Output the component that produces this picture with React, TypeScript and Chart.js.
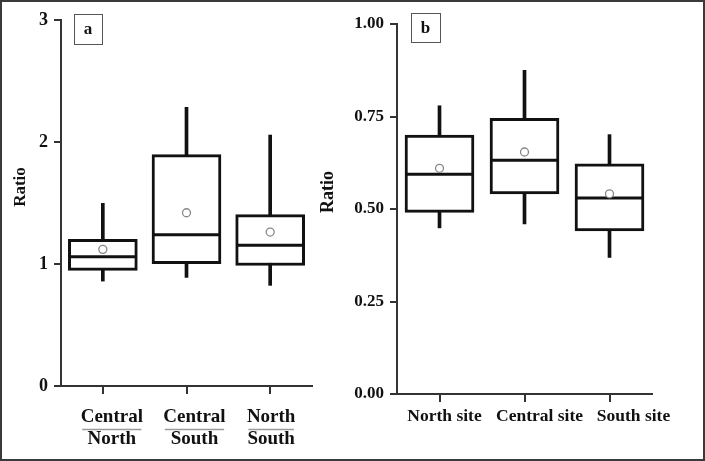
import { useEffect, useRef } from 'react';
import { Chart, registerables } from 'chart.js';

Chart.register(...registerables);

// ---------- Panel a ----------
const categoriesA = [['Central', 'North'], ['Central', 'South'], ['North', 'South']];
const minA = [0.86, 0.89, 0.825];
const q1A = [0.948, 1.002, 0.988];
const medianA = [1.06, 1.24, 1.153];
const q3A = [1.202, 1.897, 1.405];
const maxA = [1.497, 2.284, 2.057];
const meanA = [1.12, 1.42, 1.262];
const yTicksA = [0, 1, 2, 3];

// ---------- Panel b ----------
const categoriesB = ['North site', 'Central site', 'South site'];
const minB = [0.449, 0.46, 0.369];
const q1B = [0.491, 0.541, 0.441];
const medianB = [0.594, 0.632, 0.53];
const q3B = [0.7, 0.745, 0.622];
const maxB = [0.779, 0.875, 0.701];
const meanB = [0.61, 0.654, 0.541];
const yTicksB = [0, 0.25, 0.5, 0.75, 1];

const SERIF = "'Liberation Serif', 'Times New Roman', serif";
const INK = '#111';
const AXIS = '#333';

type Decor = {
  title: string;
  titleX: number;
  titleY: number;
  titleFont: string;
  tag: string;
  tagX: number;
  tagY: number;
  tagW: number;
  tagH: number;
  tagFont: string;
  labelFont: string;
  labelY: number[];
  labelDx: number[];
  fractionY: number | null;
};

function decorPlugin(d: Decor) {
  return {
    id: 'decor',
    afterDraw(chart: any) {
      const ctx = chart.ctx as CanvasRenderingContext2D;
      const xs = chart.scales.x;
      // y title
      ctx.save();
      ctx.fillStyle = INK;
      ctx.font = d.titleFont;
      ctx.textAlign = 'center';
      ctx.textBaseline = 'middle';
      ctx.translate(d.titleX, d.titleY);
      ctx.rotate(-Math.PI / 2);
      ctx.fillText(d.title, 0, 0);
      ctx.restore();
      // panel tag
      ctx.save();
      ctx.fillStyle = '#fff';
      ctx.fillRect(d.tagX, d.tagY, d.tagW, d.tagH);
      ctx.strokeStyle = '#555';
      ctx.lineWidth = 1;
      ctx.strokeRect(d.tagX + 0.5, d.tagY + 0.5, d.tagW, d.tagH);
      ctx.fillStyle = INK;
      ctx.font = d.tagFont;
      ctx.textAlign = 'center';
      ctx.textBaseline = 'middle';
      ctx.fillText(d.tag, d.tagX + d.tagW / 2, d.tagY + d.tagH / 2 + 1);
      ctx.restore();
      // category labels
      ctx.save();
      ctx.font = d.labelFont;
      ctx.fillStyle = INK;
      ctx.textAlign = 'center';
      ctx.textBaseline = 'middle';
      (chart.data.labels as any[]).forEach((lab, i) => {
        const lines: string[] = Array.isArray(lab) ? lab : [lab];
        const cx = xs.getPixelForTick(i) + (d.labelDx[i] || 0);
        lines.forEach((t, j) => ctx.fillText(t, cx, d.labelY[j]));
        if (d.fractionY !== null && lines.length > 1) {
          const w = Math.max(...lines.map((t) => ctx.measureText(t).width)) - 3;
          ctx.strokeStyle = '#9a9a9a';
          ctx.lineWidth = 1.5;
          ctx.beginPath();
          ctx.moveTo(cx - w / 2, d.fractionY);
          ctx.lineTo(cx + w / 2, d.fractionY);
          ctx.stroke();
        }
      });
      ctx.restore();
    },
  };
}

type Panel = {
  labels: any[];
  min: number[];
  q1: number[];
  median: number[];
  q3: number[];
  max: number[];
  mean: number[];
  yTicks: number[];
  decimals: number;
  tickFontSize: number;
  yAxisWidth: number;
  xAxisHeight: number;
  padding: { top: number; right: number; bottom: number; left: number };
  decor: Decor;
};

function makeConfig(p: Panel): any {
  return {
    type: 'bar',
    data: {
      labels: p.labels,
      datasets: [
        {
          type: 'bar',
          data: p.min.map((v, i) => [v, p.max[i]]),
          backgroundColor: INK,
          borderWidth: 0,
          barThickness: 3,
          grouped: false,
          order: 3,
        },
        {
          type: 'bar',
          data: p.q1.map((v, i) => [v, p.q3[i]]),
          backgroundColor: '#fff',
          borderColor: INK,
          borderWidth: 3,
          borderSkipped: false,
          barThickness: 69,
          grouped: false,
          order: 2,
        },
        {
          type: 'line',
          data: p.median,
          showLine: false,
          pointStyle: 'line',
          pointRadius: 33,
          pointBorderWidth: 3,
          pointBorderColor: INK,
          borderColor: INK,
          clip: false,
          order: 1,
        },
        {
          type: 'line',
          data: p.mean,
          showLine: false,
          pointStyle: 'circle',
          pointRadius: 4,
          pointBorderWidth: 1.3,
          pointBorderColor: '#888',
          pointBackgroundColor: '#fff',
          borderColor: '#888',
          order: 0,
        },
      ],
    },
    options: {
      animation: false,
      responsive: false,
      events: [],
      layout: { padding: p.padding, autoPadding: false },
      plugins: { legend: { display: false }, tooltip: { enabled: false } },
      scales: {
        x: {
          type: 'category',
          offset: true,
          grid: {
            display: true,
            offset: false,
            drawOnChartArea: false,
            drawTicks: true,
            tickLength: 8,
            color: AXIS,
            lineWidth: 2,
          },
          border: { display: true, color: AXIS, width: 2 },
          ticks: { display: false },
          afterFit: (s: any) => {
            s.height = p.xAxisHeight;
          },
        },
        y: {
          type: 'linear',
          min: p.yTicks[0],
          max: p.yTicks[p.yTicks.length - 1],
          grid: {
            drawOnChartArea: false,
            drawTicks: true,
            tickLength: 7,
            color: AXIS,
            lineWidth: 2,
          },
          border: { display: true, color: AXIS, width: 2 },
          ticks: {
            color: INK,
            padding: 6,
            font: { family: SERIF, size: p.tickFontSize, weight: 'bold' },
            callback: (v: any) => Number(v).toFixed(p.decimals),
          },
          afterBuildTicks: (s: any) => {
            s.ticks = p.yTicks.map((v) => ({ value: v }));
          },
          afterFit: (s: any) => {
            s.width = p.yAxisWidth;
          },
        },
      },
    },
    plugins: [decorPlugin(p.decor)],
  };
}

export default function App() {
  const refA = useRef<HTMLCanvasElement>(null);
  const refB = useRef<HTMLCanvasElement>(null);

  useEffect(() => {
    const a = new Chart(
      refA.current!,
      makeConfig({
        labels: categoriesA,
        min: minA,
        q1: q1A,
        median: medianA,
        q3: q3A,
        max: maxA,
        mean: meanA,
        yTicks: yTicksA,
        decimals: 0,
        tickFontSize: 18,
        yAxisWidth: 61,
        xAxisHeight: 75,
        padding: { top: 20, right: 3, bottom: 0, left: 0 },
        decor: {
          title: 'Ratio',
          titleX: 20.5,
          titleY: 187,
          titleFont: `bold 17px ${SERIF}`,
          tag: 'a',
          tagX: 74,
          tagY: 14,
          tagW: 28,
          tagH: 30,
          tagFont: `bold 17px ${SERIF}`,
          labelFont: `bold 19px ${SERIF}`,
          labelY: [416.7, 439.3],
          labelDx: [9, 8, 1],
          fractionY: 429.5,
        },
      })
    );
    const b = new Chart(
      refB.current!,
      makeConfig({
        labels: categoriesB,
        min: minB,
        q1: q1B,
        median: medianB,
        q3: q3B,
        max: maxB,
        mean: meanB,
        yTicks: yTicksB,
        decimals: 2,
        tickFontSize: 17,
        yAxisWidth: 82,
        xAxisHeight: 67,
        padding: { top: 24, right: 53, bottom: 0, left: 0 },
        decor: {
          title: 'Ratio',
          titleX: 13,
          titleY: 192,
          titleFont: `bold 18px ${SERIF}`,
          tag: 'b',
          tagX: 96,
          tagY: 13,
          tagW: 29,
          tagH: 29,
          tagFont: `bold 17px ${SERIF}`,
          labelFont: `bold 17.5px ${SERIF}`,
          labelY: [416],
          labelDx: [5, 15, 24],
          fractionY: null,
        },
      })
    );
    return () => {
      a.destroy();
      b.destroy();
    };
  }, []);

  return (
    <div
      style={{
        position: 'fixed',
        left: 0,
        top: 0,
        width: 705,
        height: 461,
        background: '#fff',
        overflow: 'hidden',
      }}
    >
      <canvas ref={refA} width={315} height={461} style={{ position: 'absolute', left: 0, top: 0 }} />
      <canvas ref={refB} width={390} height={461} style={{ position: 'absolute', left: 315, top: 0 }} />
      <div
        style={{
          position: 'absolute',
          left: 0,
          top: 0,
          width: 705,
          height: 461,
          border: '2px solid #3a3a3a',
          boxSizing: 'border-box',
          pointerEvents: 'none',
        }}
      />
    </div>
  );
}
